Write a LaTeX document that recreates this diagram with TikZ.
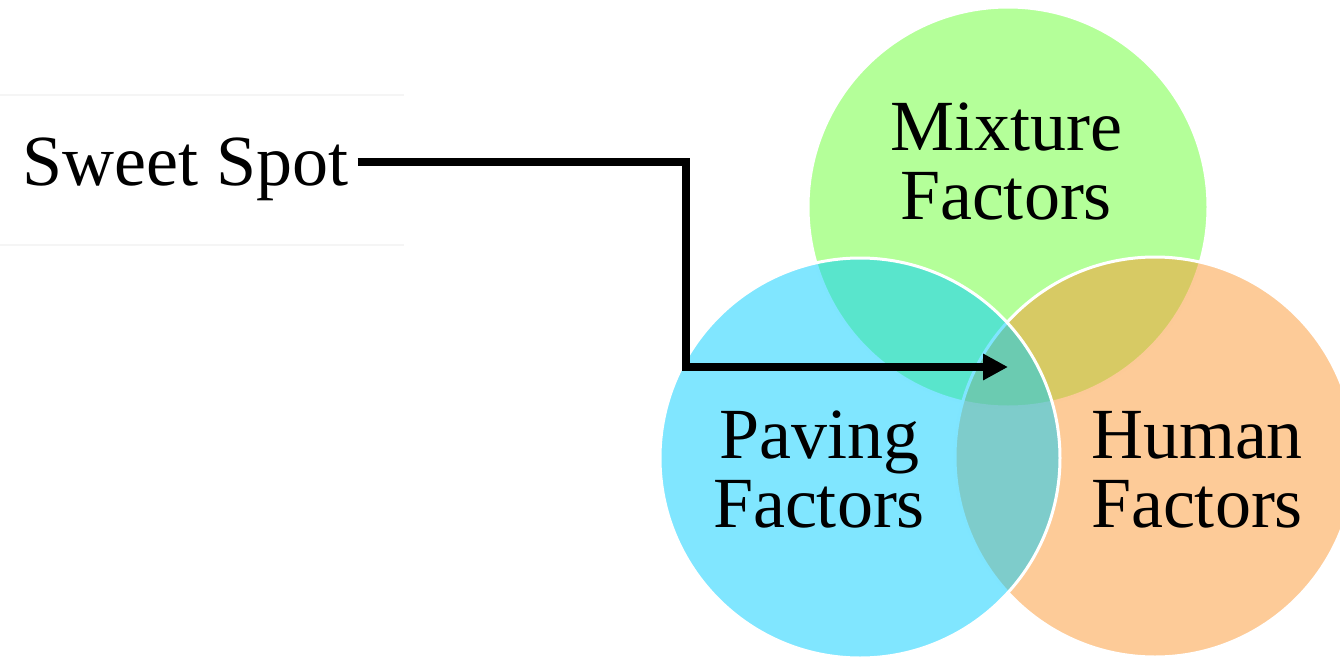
\documentclass[tikz,border=0pt]{standalone}
\usepackage{fontspec}
\setmainfont{Liberation Serif}
\usepackage{tikz}
\usetikzlibrary{arrows.meta}
\tikzset{every picture/.style={line width=0.75pt}}

\definecolor{mixgreen}{RGB}{105,255,51}
\definecolor{pavblue}{RGB}{1,205,255}
\definecolor{humorange}{RGB}{251,151,49}
\tikzset{
  venn/.style={fill opacity=0.5, draw=white, line width=1.5pt},
  label/.style={align=center, inner sep=0pt, font=\fontsize{36}{34.5}\selectfont},
  pointer/.style={line width=4pt, -{Triangle[length=12.5pt,width=12.5pt]}}
}

\begin{document}
\begin{tikzpicture}[x=0.5pt,y=0.5pt,yscale=-1]
\clip (0,0) rectangle (1340,659);

%Straight Lines [faint box edges]
\draw [color=black!4] (0,95) -- (404,95) ;
\draw [color=black!4] (0,245) -- (404,245) ;

%Shape: Circle [mixture]
\draw [venn, fill=mixgreen] (1008,207) circle (200) ;
%Shape: Circle [human]
\draw [venn, fill=humorange] (1155,457) circle (200) ;
%Shape: Circle [paving]
\draw [venn, fill=pavblue] (860,458) circle (200) ;

%Text
\node [label] (mixture) at (1006,162) {Mixture\\Factors};
\node [label] (paving) at (819,470) {Paving\\Factors};
\node [label] (human) at (1197,470) {Human\\Factors};
\node [font=\fontsize{36}{36}\selectfont, text depth=0pt, inner sep=4, anchor=west] (spot) at (14,162) {Sweet Spot};

%Arrow
\coordinate (bend) at (686,367) ;
\coordinate (tip) at (1008,367) ;
\draw [pointer] (spot.east) -| (bend) -- (tip) ;

\end{tikzpicture}
\end{document}
